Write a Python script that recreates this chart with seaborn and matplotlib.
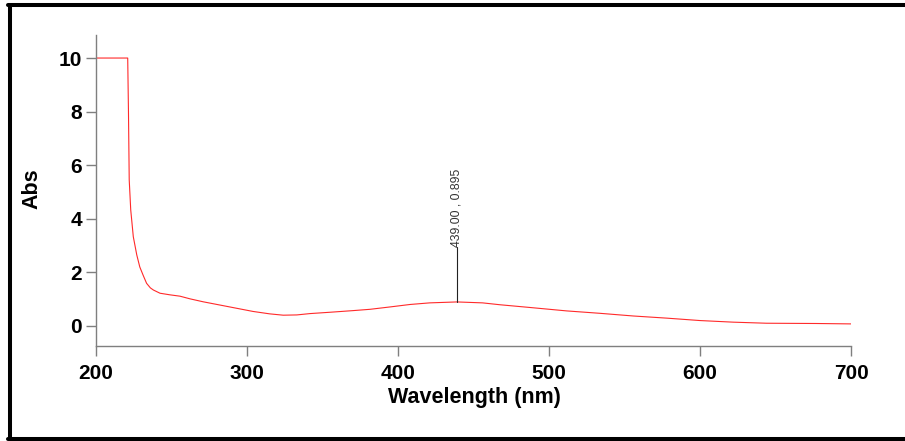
import matplotlib
matplotlib.use('Agg')
import matplotlib.pyplot as plt
from matplotlib.lines import Line2D
import pandas as pd
import seaborn as sns

# spectrum (nm, Abs)
wavelength = [200, 221, 221.5, 222, 223, 224.7, 227, 229, 231.3, 233.5, 236,
              238, 242.4, 249, 255.6, 262.3, 271, 282, 293, 304, 315, 324,
              333, 341.7, 355, 370, 381.5, 395, 408, 421, 439, 456, 467.5,
              487, 511.7, 533.8, 555.9, 578, 600, 622, 644, 677, 700]
absorbance = [10, 10, 8.0, 5.45, 4.33, 3.33, 2.65, 2.2, 1.88, 1.59, 1.42,
              1.34, 1.22, 1.16, 1.11, 1.01, 0.90, 0.78, 0.66, 0.54, 0.45, 0.40,
              0.41, 0.46, 0.51, 0.57, 0.62, 0.71, 0.80, 0.86, 0.895, 0.86, 0.79,
              0.69, 0.56, 0.47, 0.37, 0.29, 0.20, 0.14, 0.10, 0.09, 0.075]

peak_wl = 439.0
peak_abs = 0.895
marker_top = 2.95

x_ticks = [200, 300, 400, 500, 600, 700]
y_ticks = [0, 2, 4, 6, 8, 10]


def main():
    sns.set_style('ticks')
    plt.rcParams['font.family'] = ['Liberation Sans', 'DejaVu Sans']
    plt.rcParams['text.color'] = 'black'

    df = pd.DataFrame({'Wavelength (nm)': wavelength, 'Abs': absorbance})

    fig = plt.figure(figsize=(9.05, 4.41), dpi=100)
    ax = fig.add_axes([96 / 905, 95 / 441, 755 / 905, 311 / 441])

    sns.lineplot(data=df, x='Wavelength (nm)', y='Abs', ax=ax,
                 color='#ff2a2a', linewidth=0.8, sort=False)

    # peak marker
    ax.plot([peak_wl, peak_wl], [peak_abs, marker_top], color='#222222', lw=0.8)
    ax.text(peak_wl, marker_top, f'{peak_wl:.2f} , {peak_abs:.3f}',
            rotation=90, ha='center', va='bottom', fontsize=8.8, color='#333333')

    ax.set_xlim(200, 700)
    ax.set_ylim(-0.75, 10.86)
    ax.set_xticks(x_ticks)
    ax.set_yticks(y_ticks)

    for side in ['top', 'right']:
        ax.spines[side].set_visible(False)
    for side in ['left', 'bottom']:
        ax.spines[side].set_color('#7f7f7f')
        ax.spines[side].set_linewidth(1.0)

    ax.tick_params(axis='both', direction='out', length=7, width=1.0,
                   color='#7f7f7f', labelsize=15, labelcolor='black', pad=3)
    ax.tick_params(axis='x', pad=6)
    for lbl in ax.get_xticklabels() + ax.get_yticklabels():
        lbl.set_fontweight('bold')

    ax.set_xlabel('')
    ax.set_ylabel('')
    fig.text(474 / 905, 1 - 398 / 441, 'Wavelength (nm)', ha='center', va='center',
             fontsize=15.5, fontweight='bold', color='black')
    fig.text(32 / 905, 1 - 189 / 441, 'Abs', ha='center', va='center',
             rotation=90, fontsize=15.5, fontweight='bold', color='black')

    # frame around the picture (left, top, bottom)
    lw = 2.9
    fig.add_artist(Line2D([10 / 905, 10 / 905], [1 - 5 / 441, 1 - 438.5 / 441],
                          color='black', lw=lw, transform=fig.transFigure))
    fig.add_artist(Line2D([8 / 905, 1], [1 - 5 / 441, 1 - 5 / 441],
                          color='black', lw=lw, transform=fig.transFigure))
    fig.add_artist(Line2D([8 / 905, 1], [1 - 438.5 / 441, 1 - 438.5 / 441],
                          color='black', lw=lw, transform=fig.transFigure))

    fig.savefig('out.png', dpi=100)
    plt.close(fig)


if __name__ == '__main__':
    main()
